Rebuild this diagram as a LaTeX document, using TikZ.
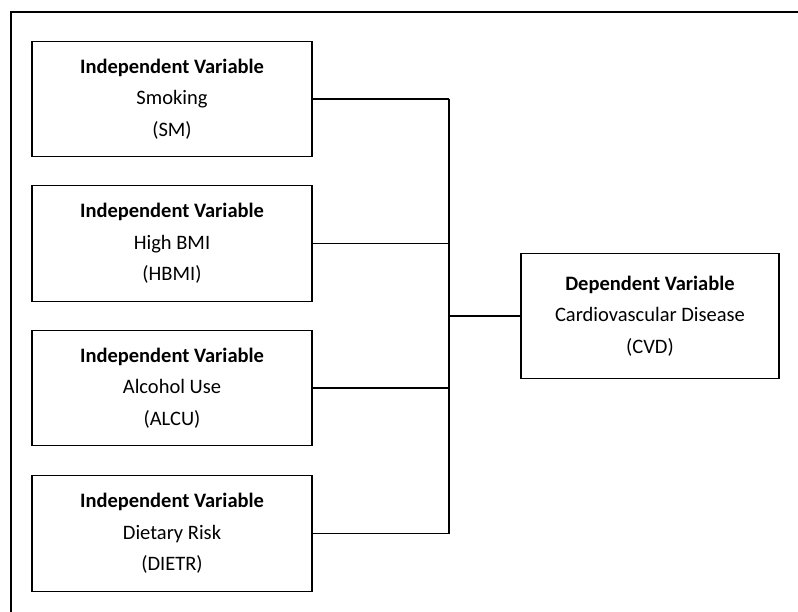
\documentclass[tikz,border=0pt]{standalone}
\usepackage{fontspec}
\setmainfont{Carlito}
\begin{document}
\begin{tikzpicture}[x=1pt,y=-1pt,
  varbox/.style={draw=black,line width=1.8pt,fill=white,minimum width=280pt,minimum height=115pt,inner sep=0pt,align=center,font=\fontsize{20.5}{31.5}\selectfont},
  conn/.style={draw=black,line width=1.6pt}]
\useasboundingbox (0,0) rectangle (798,612);
\begin{scope}
\clip (0,0) rectangle (798,612);
\draw[line width=2pt] (11,12) rectangle (820,640);
\end{scope}
\coordinate (bus) at (449,300);
\node[varbox] (sm) at (172,99) {\textbf{Independent Variable}\\Smoking\\(SM)};
\node[varbox,minimum height=116pt] (hbmi) at (172,243.5) {\textbf{Independent Variable}\\High BMI\\(HBMI)};
\node[varbox] (alcu) at (172,388) {\textbf{Independent Variable}\\Alcohol Use\\(ALCU)};
\node[varbox,minimum height=116pt] (dietr) at (172,533.5) {\textbf{Independent Variable}\\Dietary Risk\\(DIETR)};
\node[varbox,minimum width=258pt,minimum height=125pt] (cvd) at (650,316) {\textbf{Dependent Variable}\\Cardiovascular Disease\\(CVD)};
\draw[conn] (sm.east) -- (sm.east -| bus);
\draw[conn] (hbmi.east) -- (hbmi.east -| bus);
\draw[conn] (alcu.east) -- (alcu.east -| bus);
\draw[conn] (dietr.east) -- (dietr.east -| bus);
\draw[conn] (sm.east -| bus) -- (dietr.east -| bus);
\draw[conn] (cvd.west -| bus) -- (cvd.west);
\end{tikzpicture}
\end{document}
